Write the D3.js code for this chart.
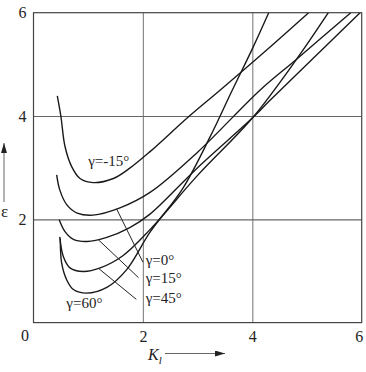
<!DOCTYPE html>
<html>
<head>
<meta charset="utf-8">
<script src="https://d3js.org/d3.v7.min.js"></script>
<style>
  body { margin: 0; background: #fff; }
  svg text { font-family: "Liberation Serif", "DejaVu Serif", serif; fill: #222; }
</style>
</head>
<body>
<div class="chart"></div>
<script>
// curves: [K_l, epsilon]
var gM15 = [[0.435,4.39],[0.5,4.0],[0.576,3.41],[0.698,3.02],[0.85,2.79],[1.09,2.71],[1.46,2.79],[1.76,2.99],[2.13,3.31],[2.85,4.0],[3.41,4.5],[4.2,5.22],[5.03,6.0]]
var g0 = [[0.424,2.86],[0.48,2.57],[0.61,2.28],[0.8,2.12],[1.09,2.08],[1.58,2.22],[2.13,2.52],[3.0,3.3],[4.14,4.5],[4.81,5.1],[5.8,6.0]]
var g15 = [[0.47,1.99],[0.576,1.76],[0.73,1.61],[0.98,1.57],[1.34,1.65],[1.76,1.84],[2.13,2.1],[3.0,3.0],[4.0,3.96],[4.32,4.3],[5.97,6.0]]
var g45 = [[0.48,1.66],[0.545,1.28],[0.667,1.06],[0.91,0.99],[1.22,1.06],[1.64,1.3],[2.13,1.8],[3.0,2.85],[4.0,3.96],[4.81,5.1],[5.39,6.0]]
var g60 = [[0.49,1.63],[0.515,1.15],[0.61,0.82],[0.73,0.64],[0.97,0.57],[1.34,0.68],[1.7,1.02],[2.13,1.75],[2.73,2.6],[3.23,3.6],[3.62,4.47],[4.0,5.3],[4.3,6.0]]

var series = [gM15, g0, g15, g45, g60]
var xTicks = [2, 4, 6]
var yTicks = [2, 4, 6]

var serif = '"Liberation Serif", "DejaVu Serif", serif'

var width = 366, height = 372
var svg = d3.select('div.chart').append('svg')
    .attr('width', width)
    .attr('height', height)

var x = d3.scaleLinear().domain([0, 6]).range([33.5, 361.7])
var y = d3.scaleLinear().domain([0, 6]).range([322.6, 12.7])

// grid lines
svg.append('g')
    .attr('transform', 'translate(0,' + y(0) + ')')
    .call(d3.axisBottom(x).tickValues([2, 4]).tickSize(-(y(0) - y(6))).tickFormat(''))
    .call(function(g) { g.select('.domain').remove() })
    .selectAll('line').attr('stroke', '#8a8a8a').attr('stroke-width', 1.2)

svg.append('g')
    .attr('transform', 'translate(' + x(0) + ',0)')
    .call(d3.axisLeft(y).tickValues([2, 4]).tickSize(-(x(6) - x(0))).tickFormat(''))
    .call(function(g) { g.select('.domain').remove() })
    .selectAll('line').attr('stroke', '#666').attr('stroke-width', 1.2)

// frame
svg.append('rect')
    .attr('x', x(0)).attr('y', y(6))
    .attr('width', x(6) - x(0)).attr('height', y(0) - y(6))
    .attr('fill', 'none').attr('stroke', '#444').attr('stroke-width', 1.2)

// tick labels
svg.append('g')
    .attr('transform', 'translate(0,' + y(0) + ')')
    .attr('font-family', serif)
    .call(d3.axisBottom(x).tickValues(xTicks).tickFormat(d3.format('d')).tickSize(0).tickPadding(8))
    .call(function(g) { g.select('.domain').remove() })
    .selectAll('text').attr('font-size', 16).attr('fill', '#222')
    .attr('dx', function(d) { return d == 6 ? -3 : 0 })

svg.append('g')
    .attr('transform', 'translate(' + x(0) + ',0)')
    .attr('font-family', serif)
    .call(d3.axisLeft(y).tickValues(yTicks).tickFormat(d3.format('d')).tickSize(0).tickPadding(7))
    .call(function(g) { g.select('.domain').remove() })
    .selectAll('text').attr('font-size', 16).attr('fill', '#222')

svg.append('text').text('0')
    .attr('x', 25).attr('y', 341)
    .attr('font-size', 16).style('text-anchor', 'middle')

// curves
var line = d3.line()
    .x(function(d) { return x(d[0]) })
    .y(function(d) { return y(d[1]) })
    .curve(d3.curveCatmullRom.alpha(0.5))

svg.append('clipPath').attr('id', 'plot')
    .append('rect')
    .attr('x', x(0)).attr('y', y(6))
    .attr('width', x(6) - x(0)).attr('height', y(0) - y(6))

svg.append('g').attr('clip-path', 'url(#plot)')
    .selectAll('path')
    .data(series)
    .enter()
    .append('path')
        .attr('d', line)
        .attr('fill', 'none')
        .attr('stroke', '#1a1a1a')
        .attr('stroke-width', 1.4)

// leader lines and labels
var leaders = [
    { from: [1.52, 2.2], to: [2.0, 1.17], label: 'γ=0°', at: [2.05, 1.22] },
    { from: [1.18, 1.61], to: [1.92, 0.87], label: 'γ=15°', at: [2.05, 0.87] },
    { from: [1.2, 1.04], to: [1.88, 0.45], label: 'γ=45°', at: [2.05, 0.48] }
]

svg.selectAll('line.leader')
    .data(leaders)
    .enter()
    .append('line')
        .attr('class', 'leader')
        .attr('x1', function(d) { return x(d.from[0]) })
        .attr('y1', function(d) { return y(d.from[1]) })
        .attr('x2', function(d) { return x(d.to[0]) })
        .attr('y2', function(d) { return y(d.to[1]) })
        .attr('stroke', '#222')
        .attr('stroke-width', 1)

svg.selectAll('text.glabel')
    .data(leaders.concat([
        { label: 'γ=-15°', at: [1.0, 3.12] },
        { label: 'γ=60°', at: [0.6, 0.37] }
    ]))
    .enter()
    .append('text')
        .attr('class', 'glabel')
        .text(function(d) { return d.label })
        .attr('x', function(d) { return x(d.at[0]) })
        .attr('y', function(d) { return y(d.at[1]) + 5 })
        .attr('font-size', 15)

// axis titles with arrows
svg.append('defs').append('marker')
    .attr('id', 'arrow')
    .attr('viewBox', '0 0 10 6')
    .attr('refX', 10).attr('refY', 3)
    .attr('markerWidth', 10).attr('markerHeight', 6)
    .attr('markerUnits', 'userSpaceOnUse')
    .attr('orient', 'auto')
    .append('path').attr('d', 'M0,0 L10,3 L0,6 Z').attr('fill', '#222')

svg.append('line')
    .attr('x1', 4).attr('y1', 202).attr('x2', 4).attr('y2', 143)
    .attr('stroke', '#666').attr('stroke-width', 1)
    .attr('marker-end', 'url(#arrow)')

svg.append('text').text('ε')
    .attr('x', 4.5).attr('y', 217)
    .attr('font-size', 17).style('text-anchor', 'middle')

svg.append('line')
    .attr('x1', 165).attr('y1', 353.5).attr('x2', 225).attr('y2', 353.5)
    .attr('stroke', '#666').attr('stroke-width', 1)
    .attr('marker-end', 'url(#arrow)')

var kl = svg.append('text')
    .attr('x', 148).attr('y', 360)
    .attr('font-size', 16).style('font-style', 'italic')
kl.append('tspan').text('K')
kl.append('tspan').text('l').attr('dy', 4).attr('font-size', 11)
</script>
</body>
</html>
